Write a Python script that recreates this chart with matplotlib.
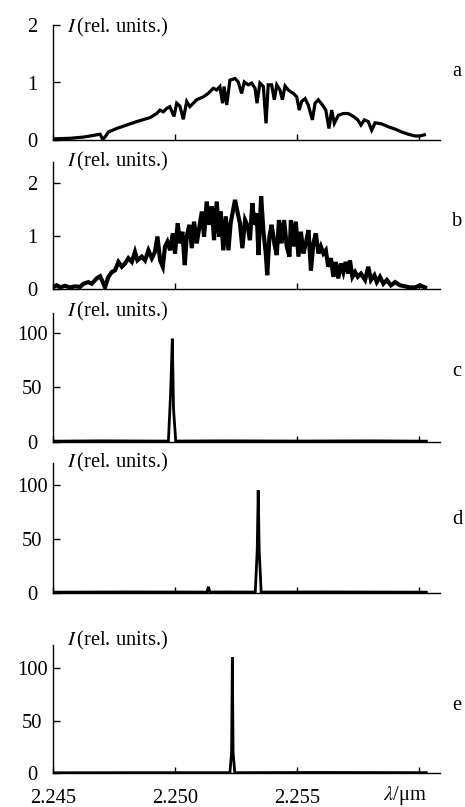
import matplotlib
matplotlib.use("Agg")
import matplotlib.pyplot as plt
import matplotlib.transforms as mtransforms

plt.rcParams["font.family"] = ["Liberation Serif", "DejaVu Serif"]
plt.rcParams["mathtext.fontset"] = "stix"

# spectrum a
lam_a = [2.24501, 2.24570, 2.24624, 2.24679, 2.24693, 2.24704, 2.24713, 2.24727, 2.24761, 2.24802,
         2.24843, 2.24898, 2.24925, 2.24938, 2.24952, 2.24966, 2.24979, 2.24996, 2.25007, 2.25020,
         2.25034, 2.25048, 2.25061, 2.25089, 2.25116, 2.25136, 2.25157, 2.25171, 2.25184, 2.25195,
         2.25201, 2.25212, 2.25225,
         2.25246, 2.25259, 2.25273, 2.25284, 2.25300, 2.25314, 2.25328, 2.25336, 2.25348, 2.25362,
         2.25373, 2.25382, 2.25396, 2.25407, 2.25417, 2.25430, 2.25440, 2.25451, 2.25464, 2.25485,
         2.25499, 2.25509, 2.25519, 2.25533, 2.25546, 2.25563, 2.25574, 2.25587, 2.25604, 2.25618,
         2.25631, 2.25642, 2.25653, 2.25669, 2.25690, 2.25710, 2.25731, 2.25749, 2.25762, 2.25776,
         2.25792, 2.25806, 2.25820, 2.25847, 2.25874, 2.25902, 2.25929, 2.25956, 2.25984, 2.26004,
         2.26022]
int_a = [0.02, 0.03, 0.05, 0.09, 0.10, 0.01, 0.05, 0.14, 0.20, 0.26,
         0.32, 0.39, 0.46, 0.52, 0.49, 0.55, 0.58, 0.41, 0.64, 0.59,
         0.36, 0.67, 0.58, 0.70, 0.75, 0.81, 0.90, 0.87, 0.93, 0.64,
         0.93, 0.61, 1.04,
         1.07, 1.01, 0.81, 1.01, 0.96, 0.99, 0.90, 0.64, 0.99, 0.93,
         0.29, 0.96, 0.96, 0.70, 0.96, 0.87, 0.70, 0.94, 0.87, 0.81,
         0.75, 0.52, 0.67, 0.72, 0.61, 0.35, 0.64, 0.70, 0.61, 0.52,
         0.20, 0.52, 0.29, 0.43, 0.46, 0.46, 0.41, 0.35, 0.26, 0.35,
         0.32, 0.17, 0.30, 0.28, 0.23, 0.19, 0.14, 0.10, 0.07, 0.07,
         0.09]

# spectrum b
lam_b = [2.24502, 2.24515, 2.24529, 2.24549, 2.24570, 2.24590, 2.24611, 2.24625, 2.24645, 2.24659,
         2.24679, 2.24693, 2.24704, 2.24713, 2.24727, 2.24741, 2.24754, 2.24768, 2.24782, 2.24795,
         2.24809, 2.24823, 2.24836, 2.24846, 2.24864, 2.24877, 2.24891, 2.24905, 2.24918, 2.24928,
         2.24939, 2.24950, 2.24959, 2.24969, 2.24980, 2.24991, 2.25000, 2.25011, 2.25021, 2.25030,
         2.25040, 2.25048, 2.25059, 2.25069, 2.25078, 2.25089, 2.25100, 2.25110, 2.25119, 2.25130,
         2.25140, 2.25151, 2.25160, 2.25171, 2.25181, 2.25187, 2.25198, 2.25208, 2.25219, 2.25228,
         2.25246, 2.25257, 2.25266, 2.25276, 2.25287, 2.25298, 2.25307, 2.25317, 2.25325, 2.25335,
         2.25342, 2.25353, 2.25362, 2.25372, 2.25378, 2.25387, 2.25396, 2.25407, 2.25417, 2.25426,
         2.25437, 2.25447, 2.25458, 2.25469, 2.25475, 2.25485, 2.25495, 2.25506, 2.25516, 2.25526,
         2.25536, 2.25547, 2.25557, 2.25567, 2.25577, 2.25588, 2.25598, 2.25608, 2.25618, 2.25628,
         2.25639, 2.25649, 2.25659, 2.25669, 2.25680, 2.25690, 2.25699, 2.25710, 2.25717, 2.25727,
         2.25738, 2.25749, 2.25762, 2.25779, 2.25792, 2.25803, 2.25817, 2.25827, 2.25840, 2.25854,
         2.25868, 2.25885, 2.25902, 2.25922, 2.25943, 2.25963, 2.25984, 2.26004, 2.26018, 2.26025]
int_b = [0.04, 0.07, 0.03, 0.06, 0.03, 0.05, 0.04, 0.10, 0.13, 0.10,
         0.20, 0.24, 0.13, 0.03, 0.23, 0.32, 0.35, 0.51, 0.42, 0.48,
         0.58, 0.51, 0.70, 0.54, 0.61, 0.54, 0.73, 0.58, 0.70, 0.99,
         0.54, 0.42, 0.80, 0.89, 0.73, 1.05, 0.67, 1.24, 0.86, 1.08,
         0.45, 0.99, 1.21, 0.77, 1.27, 0.86, 1.18, 1.46, 0.99, 1.65,
         1.21, 1.56, 0.92, 1.65, 0.99, 1.46, 0.73, 1.37, 0.73, 1.24,
         1.68, 1.43, 1.24, 0.77, 1.30, 1.18, 0.92, 1.62, 1.21, 1.43,
         0.64, 1.75, 1.11, 0.67, 0.26, 0.99, 1.21, 0.86, 0.64, 1.30,
         0.86, 1.30, 0.80, 0.61, 1.30, 0.80, 1.27, 0.61, 1.08, 0.67,
         0.86, 1.11, 0.35, 0.86, 1.05, 0.67, 0.80, 0.67, 0.73, 0.42,
         0.58, 0.23, 0.51, 0.20, 0.48, 0.32, 0.51, 0.29, 0.54, 0.23,
         0.32, 0.23, 0.29, 0.17, 0.42, 0.17, 0.26, 0.13, 0.23, 0.10,
         0.17, 0.07, 0.13, 0.07, 0.05, 0.03, 0.03, 0.07, 0.04, 0.03]

# single-line spectra c, d, e
lam_c = [2.24500, 2.24700, 2.24900, 2.24973, 2.24982, 2.24989, 2.24994, 2.25003, 2.25200, 2.25500, 2.25800, 2.26030]
int_c = [0.5, 0.8, 0.6, 0.6, 45, 95, 30, 0.6, 0.8, 0.6, 0.8, 0.5]

lam_d = [2.24500, 2.24800, 2.25100, 2.25131, 2.25137, 2.25143, 2.25200, 2.25329, 2.25337, 2.25341, 2.25345, 2.25353, 2.25600, 2.26030]
int_d = [0.5, 0.7, 0.6, 0.6, 5.5, 0.6, 0.7, 0.6, 40, 95, 40, 0.6, 0.7, 0.5]

lam_e = [2.24500, 2.24900, 2.25225, 2.25232, 2.25235, 2.25238, 2.25245, 2.25600, 2.26030]
int_e = [0.5, 0.6, 0.6, 20, 110, 20, 0.6, 0.8, 0.6]

panel_names = ["a", "b", "c", "d", "e"]
ylims = [2.0, 2.4, 119, 120, 121.5]
yticks = [[0, 1, 2], [0, 1, 2], [0, 50, 100], [0, 50, 100], [0, 50, 100]]
xticks = [2.245, 2.250, 2.255, 2.260]
xticklabels = ["2.245", "2.250", "2.255", r"$\lambda$/μm"]

W, H = 465, 807
FS = 14.8
# axes top / bottom in pixels
ax_px = [(25, 140), (161.7, 289), (312.7, 441.7), (463.3, 592.7), (645, 773.3)]
label_dy = [-2, 0, 1, 1, 5]
letter_y = [71.5, 222, 372, 520, 706]
lines_w = [2.3, 3.0, 2.0, 2.0, 2.0]

fig = plt.figure(figsize=(W / 100, H / 100), dpi=100)
data = [(lam_a, int_a), (lam_b, int_b), (lam_c, int_c), (lam_d, int_d), (lam_e, int_e)]

for i, (lam, inten) in enumerate(data):
    top, bot = ax_px[i]
    ax = fig.add_axes([53 / W, 1 - bot / H, 387 / W, (bot - top) / H])
    ax.plot(lam, inten, color="black", lw=lines_w[i], solid_joinstyle="miter")
    ax.set_xlim(2.245, 2.26086)
    ax.set_ylim(0, ylims[i])
    for s in ["top", "right"]:
        ax.spines[s].set_visible(False)
    for s in ["left", "bottom"]:
        ax.spines[s].set_linewidth(1.0)
    ax.set_yticks(yticks[i])
    ax.set_yticklabels([str(v) for v in yticks[i]], fontsize=FS)
    for t in ax.get_yticklabels():
        t.set_ha("center")
    ax.tick_params(axis="y", direction="in", length=5, width=1, pad=15)
    ax.set_xticks(xticks)
    ax.tick_params(axis="x", direction="in", length=4, width=1, pad=11)
    if i < 4:
        ax.tick_params(axis="x", labelbottom=False)
    else:
        ax.set_xticklabels(xticklabels, fontsize=FS)
        last = ax.get_xticklabels()[-1]
        # the lambda label sits left of its tick and slightly higher
        last.set_transform(last.get_transform()
                           + mtransforms.ScaledTranslation(-0.14, 0.05, fig.dpi_scale_trans))
    tr = ax.transAxes + mtransforms.ScaledTranslation(0, label_dy[i] / 100, fig.dpi_scale_trans)
    ax.text(0.036, 1.0, r"$I\,$(rel. units.)", transform=tr, va="center", ha="left", fontsize=FS)
    fig.text(457 / W, 1 - letter_y[i] / H, panel_names[i], ha="center", va="center", fontsize=FS)

fig.savefig("out.png", dpi=100)
